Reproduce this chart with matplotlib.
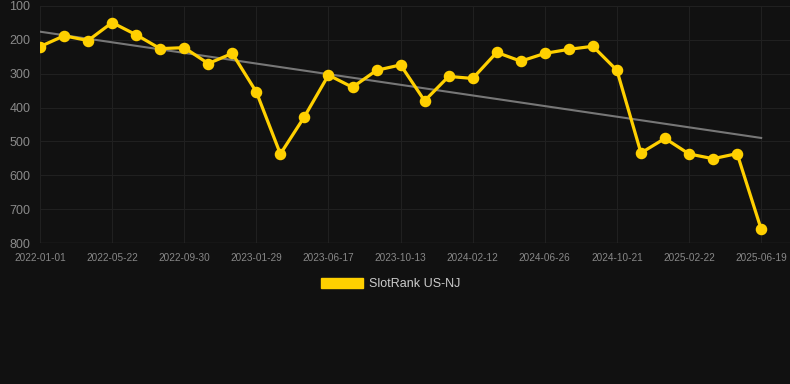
import numpy as np
import matplotlib.pyplot as plt

plt.rcParams['font.family'] = ['Liberation Sans', 'DejaVu Sans']

# SlotRank history (lower is better, axis inverted)
ranks = [220, 188, 202, 149, 185, 226, 223, 270, 240, 354,
         537, 427, 304, 340, 290, 274, 380, 308, 314, 237,
         263, 240, 228, 219, 290, 534, 491, 537, 551, 536, 759]
tick_labels = ["2022-01-01", "2022-05-22", "2022-09-30", "2023-01-29",
               "2023-06-17", "2023-10-13", "2024-02-12", "2024-06-26",
               "2024-10-21", "2025-02-22", "2025-06-19"]
y_ticks = [100, 200, 300, 400, 500, 600, 700, 800]

bg = "#111111"
x = np.arange(len(ranks))

fig = plt.figure(figsize=(7.9, 3.84), dpi=100, facecolor=bg)
ax = fig.add_axes([40/790, 1-243/384, 750/790, 237/384])
ax.set_facecolor(bg)

# trend line from a linear fit
k, b = np.polyfit(x, ranks, 1)
ax.plot(x, k*x + b, color="#777777", lw=1.5, zorder=2)

ax.plot(x, ranks, color="#FFD000", lw=2.3, marker="o", ms=7.3,
        zorder=3, label="SlotRank US-NJ")

ax.set_ylim(800, 100)
ax.set_xlim(0, 31.2)
ax.set_yticks(y_ticks)
ax.set_xticks(x[::3])
ax.set_xticklabels(tick_labels)
ax.grid(color="#202020", lw=0.8)
ax.set_axisbelow(True)
for s in ax.spines.values():
    s.set_visible(False)
ax.axhline(800, color="#2e2e2e", lw=1, zorder=1)
ax.tick_params(axis="y", colors="#8a8a8a", labelsize=9, length=0, pad=7)
ax.tick_params(axis="x", colors="#888888", labelsize=7.2, length=0, pad=7)

leg = fig.legend(handles=[plt.Rectangle((0, 0), 1, 1, color="#FFD000")],
                 labels=["SlotRank US-NJ"], loc="center",
                 bbox_to_anchor=(391/790, 1-284/384), frameon=False,
                 fontsize=9, handlelength=3.3, handleheight=0.9,
                 handletextpad=0.55)
for t in leg.get_texts():
    t.set_color("#cccccc")

fig.savefig("out.png", dpi=100, facecolor=bg)
